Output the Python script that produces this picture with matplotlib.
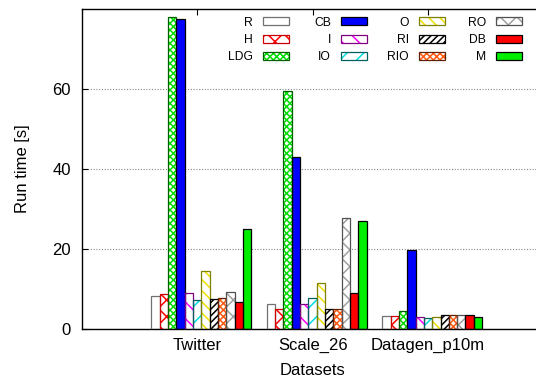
import numpy as np
import matplotlib
matplotlib.use('Agg')
import matplotlib.pyplot as plt

plt.rcParams['font.family'] = ['Liberation Sans', 'DejaVu Sans']
plt.rcParams['hatch.linewidth'] = 1.1

# data
datasets = ['Twitter', 'Scale_26', 'Datagen_p10m']
methods = ['R', 'H', 'LDG', 'CB', 'I', 'IO', 'O', 'RI', 'RIO', 'RO', 'DB', 'M']
twitter = [8.2, 8.7, 77.9, 77.6, 9.0, 7.2, 14.6, 7.4, 7.7, 9.3, 6.8, 25.1]
scale_26 = [6.2, 5.1, 59.4, 43.0, 6.2, 7.8, 11.6, 5.1, 5.1, 27.7, 8.9, 27.1]
datagen_p10m = [3.3, 3.3, 4.5, 19.7, 2.9, 2.8, 2.9, 3.4, 3.4, 3.4, 3.4, 2.9]

# styles (gnuplot-like patterns)
face = ['white', 'white', 'white', '#0000ff', 'white', 'white',
        'white', 'white', 'white', 'white', '#ff0000', '#00ee00']
hatch_col = ['#808080', '#ff0000', '#00dd00', '#0000ff', '#ff00ff', '#00e0e0',
             '#f0e000', '#000000', '#ff5a10', '#a0a0a0', '#ff0000', '#00ee00']
hatches = ['', 'xx', 'xxxxx', '', '\\\\', '//',
           '\\\\\\', '/////', 'xxxxx', 'xx', '', '']
border = ['#707070', '#cc0000', '#006000', '#000000', '#800080', '#006060',
          '#808000', '#000000', '#602000', '#505050', '#000000', '#000000']

W, H = 536, 383


def plot_bars(ax):
    """draw the clustered bars, returns the containers for the legend"""
    values = np.array([twitter, scale_26, datagen_p10m])
    x = np.arange(len(datasets))
    bw = 0.0722
    off0 = -0.362
    handles = []
    for i in range(len(methods)):
        pos = x + off0 + i * bw
        fill = ax.bar(pos, values[:, i], bw, color=face[i],
                      edgecolor=hatch_col[i], hatch=hatches[i],
                      linewidth=0, zorder=2)
        edge = ax.bar(pos, values[:, i], bw, fill=False,
                      edgecolor=border[i], linewidth=0.9, zorder=3)
        handles.append((fill, edge))
    return handles


def add_legend(fig, handles):
    """four columns, text to the left of the swatch"""
    col_right = [289, 367, 445, 522]
    for c in range(4):
        idx = range(3 * c, 3 * c + 3)
        fig.legend([handles[j] for j in idx], [methods[j] for j in idx],
                   loc='upper right',
                   bbox_to_anchor=(col_right[c] / W, 1 - 16.5 / H),
                   frameon=False, markerfirst=False, borderpad=0,
                   borderaxespad=0, handlelength=2.15, handleheight=0.66,
                   handletextpad=0.83, labelspacing=0.45, fontsize=8.7)


fig = plt.figure(figsize=(W / 100, H / 100), dpi=100)
ax = fig.add_axes([82 / W, (H - 329) / H, (543.5 - 82) / W, (329 - 9) / H])

handles = plot_bars(ax)

ax.set_xlim(-1, 3)
ax.set_ylim(0, 80)
ax.set_xticks(np.arange(len(datasets)))
ax.set_xticklabels(datasets)
ax.set_yticks([0, 20, 40, 60])
ax.tick_params(axis='both', direction='in', labelsize=12, length=4.5,
               width=0.8, top=True, right=False)
ax.tick_params(axis='x', pad=6.5)
ax.tick_params(axis='y', pad=8)
ax.yaxis.grid(True, color='#888888', linestyle=(0, (1, 1.5)), linewidth=0.8)
ax.set_axisbelow(True)
for s in ax.spines.values():
    s.set_linewidth(1.0)
ax.spines['right'].set_visible(False)

ax.set_xlabel('Datasets', fontsize=12)
ax.set_ylabel('Run time [s]', fontsize=12)
ax.xaxis.set_label_coords(0.5, -0.105)
ax.yaxis.set_label_coords(-0.113, 0.5)

add_legend(fig, handles)

fig.savefig('out.png', dpi=100)
